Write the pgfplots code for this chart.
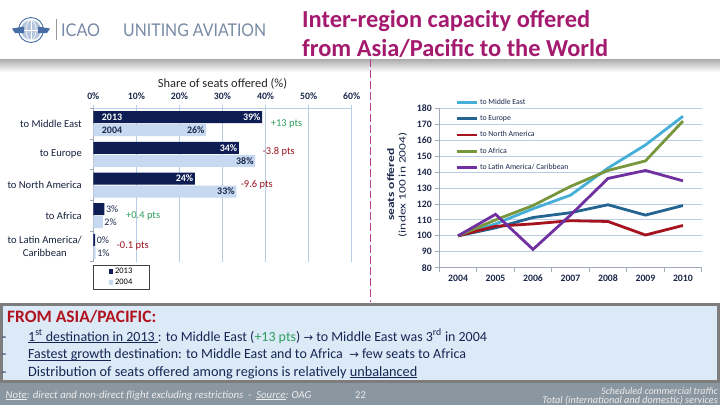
\documentclass[border=0pt]{standalone}
\usepackage{pgfplots}
\pgfplotsset{compat=1.18}
\usepackage{pgfplotstable}
\usepackage{graphicx}
\usepackage{fontspec}
\setmainfont{Carlito}
\newfontfamily\logofont{Lato}
\newfontfamily\symfont{DejaVu Sans}

\newcommand{\fsz}[1]{\fontsize{#1}{#1}\selectfont}
% underline at a fixed depth below the baseline
\newcommand{\ul}[1]{\begingroup\setbox0=\hbox{#1}\rlap{\rule[-1.8pt]{\wd0}{0.8pt}}\box0\endgroup}

\definecolor{titlemag}{RGB}{163,26,110}
\definecolor{divider}{RGB}{180,60,145}
\definecolor{emblem}{RGB}{70,110,165}
\definecolor{logotext}{RGB}{120,138,165}
\definecolor{navytext}{RGB}{28,40,75}
\definecolor{bardark}{RGB}{14,30,85}
\definecolor{barlight}{RGB}{198,217,241}
\definecolor{gridblue}{RGB}{184,204,228}
\definecolor{axisgray}{RGB}{160,170,185}
\definecolor{posgreen}{RGB}{46,158,92}
\definecolor{negred}{RGB}{155,20,30}
\definecolor{mecol}{RGB}{70,175,215}
\definecolor{eucol}{RGB}{35,100,145}
\definecolor{nacol}{RGB}{165,20,30}
\definecolor{afcol}{RGB}{120,150,60}
\definecolor{lacol}{RGB}{112,48,160}
\definecolor{boxfill}{RGB}{220,233,246}
\definecolor{boxborder}{RGB}{125,125,125}
\definecolor{footbg}{RGB}{138,150,160}
\definecolor{fromred}{RGB}{176,18,30}
\definecolor{bullettext}{RGB}{22,38,84}

% share of seats offered (%), by destination region
\pgfplotstableread{
pos  y2013 y2004
4    39.2  26.2
3    33.8  37.6
2    23.6  33.2
1    2.6   2.2
0    0.45  0.55
}\sharetable

% seats offered, index 100 in 2004
\pgfplotstableread{
year  me     eu     na     af     la
2004  100    100    100    100    100
2005  107.5  105    106    110    113.5
2006  117    111.5  107.5  119    91.5
2007  125.5  114.5  109.5  131    113
2008  142.5  119.5  109    141    136
2009  157    113    100.5  147    141
2010  175    119    106.5  172    134.5
}\indextable

\begin{document}
\begin{tikzpicture}
\begin{scope}[x=1bp,y=-1bp]
\path[use as bounding box] (0,0) rectangle (720,405);
\fill[white] (0,0) rectangle (720,405);

% header shadow band
\shade[top color=black!33, bottom color=white] (0,59) rectangle (720,72);

% emblem
\fill[emblem!40] (31,30) circle (10);
\draw[emblem, line width=0.9] (31,30) circle (12.5);
\draw[white, line width=0.6] (31,20) -- (31,40) (21,30) -- (41,30);
\draw[white, line width=0.6] (31,30) ellipse (5 and 10);
\fill[emblem] (12,28.5) -- (24,26.5) -- (24,33) -- (15,33) -- cycle;
\fill[emblem] (50,28.5) -- (38,26.5) -- (38,33) -- (47,33) -- cycle;
\draw[black!40, line width=0.7] (56.7,19) -- (56.7,39.5);
\node[anchor=base west, inner sep=0, text=logotext] at (61,36.7)
  {\resizebox{39bp}{12.7bp}{\logofont ICAO}};
\node[anchor=base west, inner sep=0, text=logotext] at (123,36.7)
  {\resizebox{143bp}{12.7bp}{\logofont UNITING AVIATION}};

% slide title
\node[anchor=base west, inner sep=0, text=titlemag, font=\bfseries\fsz{24.5}] at (302,27.3)
  {Inter-region capacity offered};
\node[anchor=base west, inner sep=0, text=titlemag, font=\bfseries\fsz{24.5}] at (302,56)
  {from Asia/Pacific to the World};

% divider between the two charts
\draw[divider, line width=0.8, dash pattern=on 8 off 3] (370,59) -- (370,302);

% summary box and footer
\fill[footbg] (0,381) rectangle (720,405);
\draw[boxborder, line width=3, fill=boxfill] (1.5,304.5) rectangle (718.5,381.5);
\node[anchor=base west, inner sep=0, text=fromred, font=\bfseries\fsz{17.5}] at (7,322)
  {FROM ASIA/PACIFIC:};
\foreach \yy in {341,358.5,376}
  \node[anchor=base west, inner sep=0, text=bullettext, font=\fsz{14}] at (2,\yy) {-};
\node[anchor=base west, inner sep=0, text=bullettext, font=\fsz{14}] at (28,341)
  {\ul{1\textsuperscript{st} destination in 2013~}: to Middle East ({\color{posgreen}+13 pts}) {\symfont\fsz{11.5}→} to Middle East was 3\textsuperscript{rd} in 2004};
\node[anchor=base west, inner sep=0, text=bullettext, font=\fsz{14}] at (28,358.5)
  {\ul{Fastest growth} destination: to Middle East and to Africa~~{\symfont\fsz{11.5}→} few seats to Africa};
\node[anchor=base west, inner sep=0, text=bullettext, font=\fsz{14.3}] at (28,376)
  {Distribution of seats offered among regions is relatively \ul{unbalanced}};
\node[anchor=base west, inner sep=0, text=white!93!black, font=\itshape\fsz{10.8}] at (5.5,398)
  {\ul{Note}: direct and non-direct flight excluding restrictions~~-~~\ul{Source}: OAG};
\node[anchor=base west, inner sep=0, text=white!93!black, font=\fsz{10.5}] at (355,398) {22};
\node[anchor=base east, inner sep=0, text=white!93!black, font=\itshape\fsz{10}] at (718,394.5)
  {Scheduled commercial traffic};
\node[anchor=base east, inner sep=0, text=white!93!black, font=\itshape\fsz{10.3}] at (718,403.8)
  {Total (international and domestic) services};
\end{scope}

% ---- share of seats offered, 2013 vs 2004 ----
\begin{axis}[
  at={(93.3bp,-261.7bp)}, anchor=south west,
  scale only axis, width=258.4bp, height=153.4bp,
  xbar, bar width=12bp,
  xmin=0, xmax=60, ymin=-0.5, ymax=4.5,
  /pgf/number format/assume math mode=true,
  axis x line*=top, axis y line*=left,
  x axis line style={gridblue, line width=0.8bp},
  y axis line style={axisgray, line width=0.8bp},
  xtick={0,10,...,60},
  xticklabels={0\%,10\%,20\%,30\%,40\%,50\%,60\%},
  xticklabel style={font=\bfseries\fsz{9.8}, text=navytext, yshift=2bp},
  xmajorgrids, grid style={gridblue, line width=0.8bp},
  tick align=outside, major tick length=3bp,
  xtick style={gridblue, line width=0.8bp},
  ytick={0,...,4},
  yticklabels={{to Latin America/\\Caribbean},{to Africa},{to North America},{to Europe},{to Middle East}},
  yticklabel style={align=center, font=\fontsize{10.6}{12.5}\selectfont, text=navytext!80!black, xshift=-5bp},
  ytick style={draw=none},
  extra y ticks={-0.5,0.5,...,4.5},
  extra y tick labels={},
  extra y tick style={grid=none, ytick style={draw=axisgray, line width=0.8bp}},
  title={Share of seats offered (\%)},
  title style={at={(axis description cs:0.5,1)}, anchor=center, yshift=19bp, font=\fsz{12.5}, text=black!85},
  legend style={at={(axis description cs:0,0)}, anchor=north west, yshift=-3bp,
    draw=black!75, line width=0.7bp, font=\fsz{8.5}, inner xsep=15bp, inner ysep=1bp,
    cells={anchor=west}, row sep=0bp},
  legend image code/.code={\fill[#1] (0bp,-2.2bp) rectangle (4.5bp,2.5bp);},
  clip=false,
]
\addplot[fill=bardark, draw=none, bar shift=6.5bp] table[x=y2013, y=pos] {\sharetable};
\addplot[fill=barlight, draw=none, bar shift=-6.5bp] table[x=y2004, y=pos] {\sharetable};
\legend{2013, 2004}

% value labels: inside the long bars, beside the short ones
\addplot[draw=none, fill=none, forget plot, bar shift=6.5bp, restrict y to domain=1.5:4.5,
  point meta=x, nodes near coords={\pgfmathprintnumber[fixed,precision=0]{\pgfplotspointmeta}\%},
  nodes near coords style={anchor=east, text=white, font=\bfseries\fsz{10}, inner sep=1.5bp}]
  table[x=y2013, y=pos] {\sharetable};
\addplot[draw=none, fill=none, forget plot, bar shift=-6.5bp, restrict y to domain=1.5:4.5,
  point meta=x, nodes near coords={\pgfmathprintnumber[fixed,precision=0]{\pgfplotspointmeta}\%},
  nodes near coords style={anchor=east, text=navytext, font=\bfseries\fsz{10}, inner sep=1.5bp}]
  table[x=y2004, y=pos] {\sharetable};
\addplot[draw=none, fill=none, forget plot, bar shift=6.5bp, restrict y to domain=-0.5:1.5,
  point meta=x, nodes near coords={\pgfmathprintnumber[fixed,precision=0]{\pgfplotspointmeta}\%},
  nodes near coords style={anchor=west, text=navytext, font=\fsz{10}, inner sep=1.5bp}]
  table[x=y2013, y=pos] {\sharetable};
\addplot[draw=none, fill=none, forget plot, bar shift=-6.5bp, restrict y to domain=-0.5:1.5,
  point meta=x, nodes near coords={\pgfmathprintnumber[fixed,precision=0]{\pgfplotspointmeta}\%},
  nodes near coords style={anchor=west, text=navytext, font=\fsz{10}, inner sep=1.5bp}]
  table[x=y2004, y=pos] {\sharetable};

% year tags inside the first pair of bars
\node[anchor=west, inner sep=0, text=white, font=\bfseries\fsz{10}, yshift=6.5bp] at (axis cs:1.95,4) {2013};
\node[anchor=west, inner sep=0, text=navytext, font=\bfseries\fsz{10}, yshift=-6.5bp] at (axis cs:1.95,4) {2004};

% change in share, 2004 to 2013
\node[anchor=west, inner sep=0, text=posgreen, font=\fsz{10.5}] at (axis cs:41.2,4) {+13 pts};
\node[anchor=west, inner sep=0, text=negred, font=\fsz{10.5}, yshift=2.5bp] at (axis cs:39.3,3) {-3.8 pts};
\node[anchor=west, inner sep=0, text=negred, font=\fsz{10.5}] at (axis cs:34.2,2) {-9.6 pts};
\node[anchor=west, inner sep=0, text=posgreen, font=\fsz{10.5}] at (axis cs:7.6,1) {+0.4 pts};
\node[anchor=west, inner sep=0, text=negred, font=\fsz{10.5}] at (axis cs:5.4,0) {-0.1 pts};
\end{axis}

% ---- seats offered index by destination ----
\begin{axis}[
  at={(439.3bp,-267.7bp)}, anchor=south west,
  scale only axis, width=262.4bp, height=159.4bp,
  xmin=2003.5, xmax=2010.5, ymin=80, ymax=180,
  xtick={2003.5,2004.5,...,2010.5},
  x tick label as interval,
  xticklabels={2004,2005,2006,2007,2008,2009,2010},
  ytick={80,90,...,180},
  axis x line*=bottom, axis y line*=left,
  axis line style={axisgray, line width=0.8bp},
  ymajorgrids, grid style={gridblue, line width=0.8bp},
  tick align=outside, major tick length=4bp,
  tick style={axisgray, line width=0.8bp},
  ticklabel style={font=\bfseries\fsz{9.8}, text=navytext},
  /pgf/number format/assume math mode=true,
  ylabel={\scalebox{1.35}[1]{\textbf{seats offered}}\\\scalebox{1.35}[1]{(index 100 in 2004)}},
  ylabel style={align=center, font=\fontsize{10}{11.5}\selectfont, text=navytext,
    at={(axis description cs:-0.161,0.52)}, anchor=center},
  legend style={at={(axis description cs:0.06,1.07)}, anchor=north west,
    draw=none, fill=none, font=\fsz{7.8}, text=navytext, row sep=5.4bp,
    cells={anchor=west}, inner sep=0pt},
  legend image code/.code={\draw[#1] (0bp,0bp) -- (20bp,0bp);},
  clip=false,
]
\addplot[mecol, line width=2.8bp] table[x=year, y=me] {\indextable};
\addplot[eucol, line width=2.8bp] table[x=year, y=eu] {\indextable};
\addplot[nacol, line width=2.8bp] table[x=year, y=na] {\indextable};
\addplot[afcol, line width=2.8bp] table[x=year, y=af] {\indextable};
\addplot[lacol, line width=2.8bp] table[x=year, y=la] {\indextable};
\legend{to Middle East, to Europe, to North America, to Africa, to Latin America/ Caribbean}
\end{axis}
\end{tikzpicture}
\end{document}
